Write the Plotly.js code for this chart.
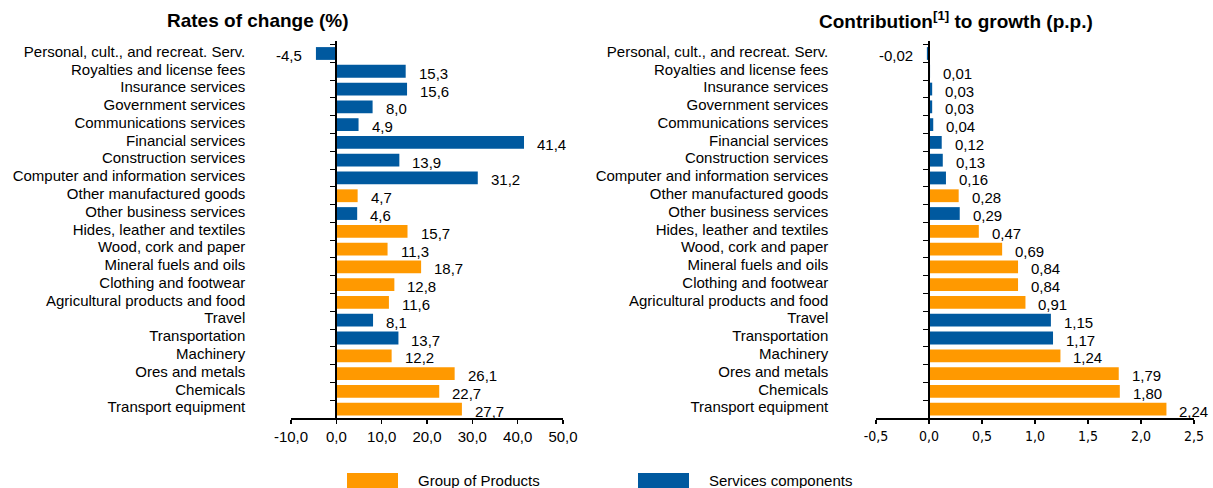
<!DOCTYPE html>
<html>
<head>
<meta charset="utf-8">
<script src="https://cdn.plot.ly/plotly-3.0.1.min.js"></script>
<style>html,body{margin:0;padding:0;background:#fff;}#chart{width:1213px;height:488px;}</style>
</head>
<body>
<div id="chart"></div>
<script>
// ---- Data (top to bottom as shown) ----
const categories = [
  "Personal, cult., and recreat. Serv.",
  "Royalties and license fees",
  "Insurance services",
  "Government services",
  "Communications services",
  "Financial services",
  "Construction services",
  "Computer and information services",
  "Other manufactured goods",
  "Other business services",
  "Hides, leather and textiles",
  "Wood, cork and paper",
  "Mineral fuels and oils",
  "Clothing and footwear",
  "Agricultural products and food",
  "Travel",
  "Transportation",
  "Machinery",
  "Ores and metals",
  "Chemicals",
  "Transport equipment"
];
// S = Services components, P = Group of Products
const groups = ["S","S","S","S","S","S","S","S","P","S","P","P","P","P","P","S","S","P","P","P","P"];
const ratesOfChange = [-4.5, 15.3, 15.6, 8.0, 4.9, 41.4, 13.9, 31.2, 4.7, 4.6, 15.7, 11.3, 18.7, 12.8, 11.6, 8.1, 13.7, 12.2, 26.1, 22.7, 27.7];
const contribution = [-0.02, 0.01, 0.03, 0.03, 0.04, 0.12, 0.13, 0.16, 0.28, 0.29, 0.47, 0.69, 0.84, 0.84, 0.91, 1.15, 1.17, 1.24, 1.79, 1.80, 2.24];
const ratesTicks = [-10, 0, 10, 20, 30, 40, 50];
const contribTicks = [-0.5, 0, 0.5, 1.0, 1.5, 2.0, 2.5];
const groupNames = {P: "Group of Products", S: "Services components"};
const groupColors = {P: "#FF9900", S: "#00599F"};

// ---- Helpers ----
const FONT = "Liberation Sans, Arial, sans-serif";
const NARROW = "Liberation Sans Narrow, DejaVu Sans Condensed, Arial Narrow, Liberation Sans, sans-serif";
function fmt(v, d) { return v.toFixed(d).replace(".", ","); }

function makeTraces(values, xa, ya) {
  return ["P", "S"].map(g => {
    const idx = categories.map((c, i) => i).filter(i => groups[i] === g);
    return {
      type: "bar", orientation: "h",
      name: groupNames[g],
      y: idx.map(i => categories[i]),
      x: idx.map(i => values[i]),
      xaxis: xa, yaxis: ya,
      width: 0.72,
      marker: {color: groupColors[g], line: {width: 0}},
      showlegend: false,
      hoverinfo: "x+y"
    };
  });
}

function makeLabels(values, decimals, xa, ya) {
  return values.map((v, i) => ({
    x: v, y: categories[i], xref: xa, yref: ya,
    text: fmt(v, decimals), showarrow: false,
    xanchor: v < 0 ? "right" : "left",
    xshift: v < 0 ? -12 : 11, yshift: -2,
    font: {family: FONT, size: 15, color: "#000"}
  }));
}

const data = [].concat(
  makeTraces(ratesOfChange, "x", "y"),
  makeTraces(contribution, "x2", "y2")
);

const yDomain = [0.1434, 0.916];
const yCommon = {
  type: "category",
  categoryorder: "array", categoryarray: categories,
  autorange: "reversed",
  tickmode: "linear", tick0: 0, dtick: 1,
  domain: yDomain,
  anchor: "free",
  showline: true, linecolor: "#000", linewidth: 2,
  ticks: "outside", ticklen: 5, tickwidth: 1, tickcolor: "#000",
  tickson: "boundaries",
  ticklabelshift: 2,
  showgrid: false, zeroline: false,
  tickfont: {family: FONT, size: 15, color: "#000"}
};
const xCommon = {
  showline: true, linecolor: "#000", linewidth: 2,
  ticks: "outside", ticklen: 4, tickwidth: 1.5, tickcolor: "#000",
  showgrid: false, zeroline: false,
  tickmode: "array",
  fixedrange: true
};

const annotations = [].concat(
  makeLabels(ratesOfChange, 1, "x", "y"),
  makeLabels(contribution, 2, "x2", "y2"),
  [
    {xref: "paper", yref: "paper", x: 258/1213, y: 1 - 20/488, xanchor: "center", yanchor: "middle",
     text: "<b>Rates of change (%)</b>", showarrow: false, font: {family: FONT, size: 19, color: "#000"}},
    {xref: "paper", yref: "paper", x: 956/1213, y: 1 - 20/488, xanchor: "center", yanchor: "middle",
     text: "<b>Contribution<sup>[1]</sup> to growth (p.p.)</b>", showarrow: false, font: {family: FONT, size: 19, color: "#000"}},
    {xref: "paper", yref: "paper", x: 416/1213, y: 1 - 480/488, xanchor: "left", yanchor: "middle",
     text: groupNames.P, showarrow: false, font: {family: FONT, size: 15, color: "#000"}},
    {xref: "paper", yref: "paper", x: 707/1213, y: 1 - 480/488, xanchor: "left", yanchor: "middle",
     text: groupNames.S, showarrow: false, font: {family: FONT, size: 15, color: "#000"}}
  ]
);

const shapes = [
  {type: "rect", xref: "paper", yref: "paper", x0: 347/1213, x1: 398/1213, y0: 0, y1: 1 - 473/488,
   fillcolor: groupColors.P, line: {width: 0}},
  {type: "rect", xref: "paper", yref: "paper", x0: 638/1213, x1: 689/1213, y0: 0, y1: 1 - 473/488,
   fillcolor: groupColors.S, line: {width: 0}}
];

const layout = {
  width: 1213, height: 488,
  margin: {l: 0, r: 0, t: 0, b: 0},
  paper_bgcolor: "#fff", plot_bgcolor: "#fff",
  barmode: "overlay",
  showlegend: false,
  font: {family: FONT, size: 15, color: "#000"},
  xaxis: Object.assign({}, xCommon, {
    domain: [291/1213, 563/1213], range: [-10, 50], anchor: "y",
    tickvals: ratesTicks, ticktext: ratesTicks.map(v => fmt(v, 1)),
    tickfont: {family: FONT, size: 15, color: "#000"}
  }),
  yaxis: Object.assign({}, yCommon, {
    position: 336.3/1213, ticklabelstandoff: 87
  }),
  xaxis2: Object.assign({}, xCommon, {
    domain: [876/1213, 1194/1213], range: [-0.5, 2.5], anchor: "y2",
    tickvals: contribTicks, ticktext: contribTicks.map(v => fmt(v, 1)),
    tickfont: {family: NARROW, size: 14, color: "#000"}
  }),
  yaxis2: Object.assign({}, yCommon, {
    position: 929.3/1213, ticklabelstandoff: 97
  }),
  annotations: annotations,
  shapes: shapes
};

Plotly.newPlot("chart", data, layout, {displayModeBar: false, staticPlot: true});
</script>
</body>
</html>
